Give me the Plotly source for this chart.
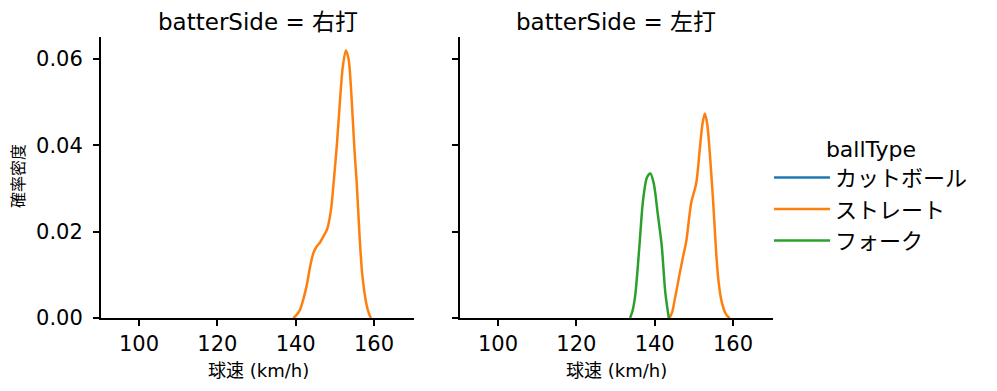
import plotly.graph_objects as go

# ---- data ----
panels = ["右打", "左打"]
ball_types = ["カットボール", "ストレート", "フォーク"]
colors = ["#1f77b4", "#ff7f0e", "#2ca02c"]

# 右打 - ストレート
r_str_x = [139.4, 140.0, 141.0, 142.0, 142.8, 143.7, 144.5, 145.3, 146.2, 147.0, 148.0, 149.0, 149.6, 150.5, 151.2, 152.0, 152.8, 153.5, 154.2, 155.0, 155.6, 156.3, 157.0, 158.0, 158.7, 159.2]
r_str_y = [0.0, 0.0005, 0.0017, 0.0045, 0.0075, 0.0120, 0.0150, 0.0165, 0.0175, 0.0188, 0.0205, 0.0250, 0.0305, 0.0400, 0.0490, 0.0580, 0.0620, 0.0600, 0.0520, 0.0390, 0.0310, 0.0190, 0.0100, 0.0035, 0.0010, 0.0]

# 左打 - ストレート
l_str_x = [143.8, 144.5, 145.1, 145.8, 146.4, 147.2, 148.1, 149.3, 150.6, 151.5, 152.2, 152.8, 153.4, 154.0, 154.9, 155.7, 156.3, 157.0, 158.0, 158.7, 159.2]
l_str_y = [0.0, 0.0015, 0.0042, 0.0075, 0.0104, 0.0140, 0.0180, 0.0266, 0.0312, 0.0390, 0.0450, 0.0474, 0.0450, 0.0390, 0.0273, 0.0150, 0.0085, 0.0042, 0.0012, 0.0003, 0.0]

# 左打 - フォーク
l_fk_x = [133.7, 134.3, 135.0, 136.1, 137.0, 138.0, 138.9, 139.8, 140.8, 141.8, 142.7, 143.6]
l_fk_y = [0.0, 0.0015, 0.0050, 0.0167, 0.0270, 0.0325, 0.0335, 0.0310, 0.0240, 0.0167, 0.0060, 0.0]

x_ticks = [100, 120, 140, 160]
y_ticks = [0.00, 0.02, 0.04, 0.06]
y_tick_labels = ["0.00", "0.02", "0.04", "0.06"]

FONT = "DejaVu Sans, Noto Sans CJK JP"

# page body has an 8px margin; work in page pixels and convert
OFF = 8
FW, FH = 997 - OFF, 391 - OFF


def px(x):
    return (x - OFF) / FW


def py(y):
    return 1 - (y - OFF) / FH


fig = go.Figure()

fig.add_trace(go.Scatter(x=[None], y=[None], mode="lines", name=ball_types[0],
                         line=dict(color=colors[0], width=2.5), xaxis="x", yaxis="y"))
fig.add_trace(go.Scatter(x=r_str_x, y=r_str_y, mode="lines", name=ball_types[1],
                         line=dict(color=colors[1], width=2.5, shape="spline", smoothing=0.8),
                         xaxis="x", yaxis="y"))
fig.add_trace(go.Scatter(x=l_str_x, y=l_str_y, mode="lines", name=ball_types[1], showlegend=False,
                         line=dict(color=colors[1], width=2.5, shape="spline", smoothing=0.8),
                         xaxis="x2", yaxis="y2"))
fig.add_trace(go.Scatter(x=l_fk_x, y=l_fk_y, mode="lines", name=ball_types[2],
                         line=dict(color=colors[2], width=2.5, shape="spline", smoothing=0.8),
                         xaxis="x2", yaxis="y2"))

axis_common = dict(showline=True, linecolor="black", linewidth=2, ticks="outside",
                   ticklen=6, tickwidth=2, tickcolor="black", showgrid=False, zeroline=False,
                   automargin=False,
                   tickfont=dict(family=FONT, size=21, color="black"))

fig.update_layout(
    width=FW, height=FH,
    margin=dict(l=0, r=0, t=0, b=0, autoexpand=False),
    paper_bgcolor="white", plot_bgcolor="white",
    font=dict(family=FONT, color="black"),
    xaxis=dict(domain=[px(101), px(414)], range=[90.3, 170.2], tickvals=x_ticks,
               anchor="y", **axis_common),
    yaxis=dict(domain=[py(318), py(37)], range=[0, 0.0651], tickvals=y_ticks, ticktext=y_tick_labels,
               anchor="x", ticklabelstandoff=6, **axis_common),
    xaxis2=dict(domain=[px(460), px(773)], range=[90.3, 170.2], tickvals=x_ticks,
                anchor="y2", **axis_common),
    yaxis2=dict(domain=[py(318), py(37)], range=[0, 0.0651], tickvals=y_ticks, showticklabels=False,
                anchor="x2", **axis_common),
    legend=dict(x=px(769), y=py(128), xanchor="left", yanchor="top",
                title=dict(text="ballType", side="top center", font=dict(family=FONT, size=22)),
                font=dict(family=FONT, size=22), bgcolor="rgba(0,0,0,0)",
                itemwidth=56, tracegroupgap=0),
    annotations=[
        dict(text="batterSide = " + panels[0], x=px(258), y=py(22), xref="paper", yref="paper",
             showarrow=False, font=dict(family=FONT, size=23), xanchor="center", yanchor="middle"),
        dict(text="batterSide = " + panels[1], x=px(616), y=py(22), xref="paper", yref="paper",
             showarrow=False, font=dict(family=FONT, size=23), xanchor="center", yanchor="middle"),
        dict(text="球速 (km/h)", x=px(258), y=py(370), xref="paper", yref="paper",
             showarrow=False, font=dict(family=FONT, size=18), xanchor="center", yanchor="middle"),
        dict(text="球速 (km/h)", x=px(616), y=py(370), xref="paper", yref="paper",
             showarrow=False, font=dict(family=FONT, size=18), xanchor="center", yanchor="middle"),
        dict(text="確率密度", x=px(18), y=py(176), xref="paper", yref="paper", textangle=-90,
             showarrow=False, font=dict(family=FONT, size=16), xanchor="center", yanchor="middle"),
    ],
)

fig.write_html("out.html")
